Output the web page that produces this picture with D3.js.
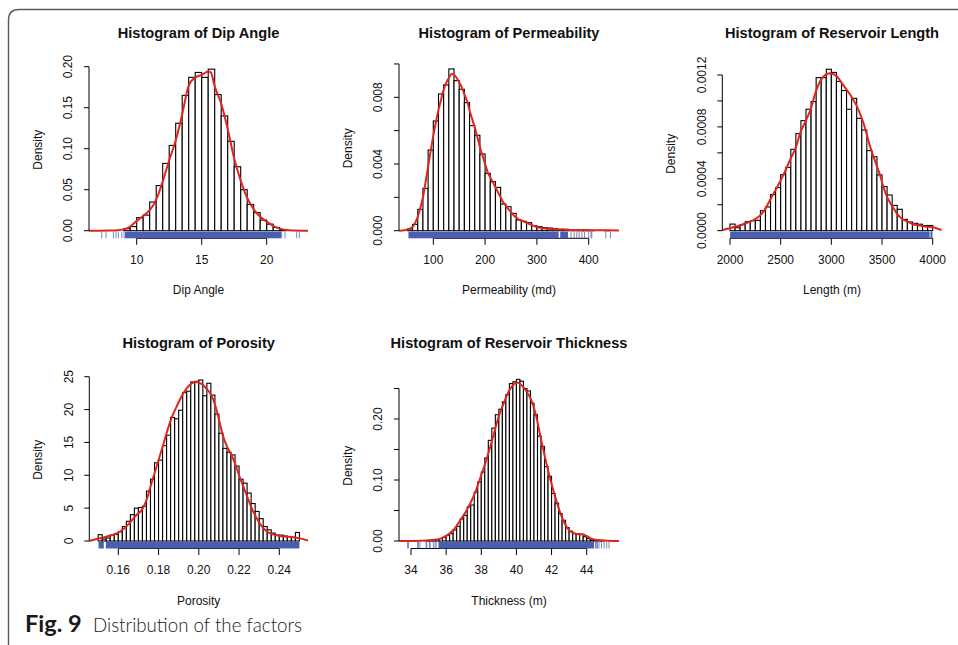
<!DOCTYPE html>
<html><head><meta charset="utf-8">
<script src="https://cdn.jsdelivr.net/npm/d3@7"></script>
<style>
body{margin:0;background:#fff;}
svg{display:block;}
</style></head><body>
<svg id="chart" width="958" height="645"></svg>
<script>
// ================= DATA =================
// --- Dip Angle ---
const dipBinStart = 9.0, dipBinWidth = 0.5;
const dipDensity = [0.0025,0.005,0.016,0.019,0.035,0.055,0.082,0.104,0.131,0.165,0.187,0.193,0.187,0.197,0.166,0.140,0.109,0.078,0.050,0.032,0.022,0.013,0.008,0.004,0.001];
const dipCurveX = [6.33,8.0,8.5,9.0,9.5,10,10.5,11,11.5,12,12.5,13,13.5,14,14.5,15,15.5,15.7,16,16.5,17,17.5,18,18.5,19,19.5,20,20.5,21,21.5,22,23.18];
const dipCurveY = [0,0.0002,0.0005,0.0016,0.005,0.012,0.018,0.025,0.038,0.06,0.086,0.11,0.142,0.177,0.187,0.19,0.194,0.193,0.176,0.155,0.124,0.088,0.061,0.04,0.026,0.017,0.011,0.006,0.0025,0.0008,0.0002,0];
const dipRugDense = [[9.1,21.1]];
const dipRugTicks = [7.31,7.64,8.21,8.41,8.59,8.85,9.03,21.15,21.41,22.31,22.51];
const dipXTicks = [10,15,20];
const dipXLabels = ["10","15","20"];
const dipYTicks = [0,0.05,0.10,0.15,0.20];
const dipYLabels = ["0.00","0.05","0.10","0.15","0.20"];

// --- Permeability ---
const permBinStart = 50, permBinWidth = 10;
const permDensity = [0.0001,0.00038,0.00128,0.00254,0.00484,0.00658,0.0082,0.00874,0.0097,0.0090,0.00848,0.00768,0.0063,0.00572,0.0046,0.00344,0.00294,0.0026,0.0016,0.00144,0.00104,0.00064,0.00056,0.00048,0.0003,0.00024,0.00018,0.00016,0.00012,0.00008,0.00008,0.00006,0.00005,0.00004,0.00004,0.00002,0,0,0.00002];
const permCurveX = [33.8,45,55,62,67,71,76,80.6,85,90.3,95,100,105,109.7,114.5,119.4,124,129,135.5,142,150,155,161,166,171,176,181,186,191,196,200,205,210,215,220,225,230,235,240,245,250,256,262,268,275,281,288,295,306,316,326,336,350,371,397,430,458.5];
const permCurveY = [0,0.00003,0.00012,0.0003,0.0006,0.00094,0.0015,0.0021,0.0029,0.0039,0.0048,0.0057,0.0065,0.0072,0.0078,0.0084,0.0088,0.0091,0.0094,0.0093,0.0089,0.0086,0.0081,0.0077,0.0071,0.0066,0.0061,0.0055,0.0049,0.0044,0.0040,0.0035,0.0032,0.0029,0.0026,0.0023,0.0020,0.0017,0.0015,0.0013,0.0011,0.0009,0.00075,0.00063,0.00055,0.00046,0.00036,0.00028,0.00017,0.00013,0.0001,0.00009,0.00007,0.00004,0.00003,0.00002,0.000005];
const permRugDense = [[52,342],[345,360]];
const permRugTicks = [366,372,377,381.5,387,392,400,404.6,406,433,442];
const permXTicks = [100,200,300,400];
const permXLabels = ["100","200","300","400"];
const permYTicks = [0,0.002,0.004,0.006,0.008,0.010];
const permYLabels = ["0.000","","0.004","","0.008",""];

// --- Reservoir Length ---
const lenBinStart = 2000, lenBinWidth = 50;
const lenDensity = [0.000051,0.000023,0.000046,0.000069,0.000077,0.00008,0.000154,0.000183,0.000278,0.000332,
  0.000432,0.000488,0.000627,0.000748,0.000848,0.000936,0.000995,0.00118,0.00118,0.001244,
  0.00122,0.00115,0.00108,0.000936,0.00102,0.000866,0.000776,0.000617,0.00057,0.00043,
  0.00034,0.000275,0.000195,0.000165,0.000087,0.000067,0.000057,0.00005,0.00004,0.00004];
const lenCurveX = [1901,1950,2000,2050,2100,2150,2200,2250,2300,2350,2395,2461,2527,2592,2658,2691,2750,2793,2842,2888,2938,2987,3053,3119,3185,3251,3317,3382,3448,3480,3513,3550,3600,3645,3700,3750,3800,3875,3950,4006,4050,4089];
const lenCurveY = [0.000003,0.00001,0.00002,0.00003,0.000042,0.000055,0.00007,0.00009,0.00012,0.00017,0.000237,0.00033,0.00043,0.000545,0.00066,0.00075,0.00085,0.00093,0.00106,0.00115,0.0012,0.001213,0.00119,0.00112,0.00105,0.00096,0.00083,0.00065,0.0005,0.00043,0.00034,0.00026,0.00019,0.000134,0.00009,0.00007,0.000052,0.00004,0.00003,0.000026,0.000015,0.000005];
const lenRugDense = [[2001,3970],[3978,3998]];
const lenRugTicks = [];
const lenXTicks = [2000,2500,3000,3500,4000];
const lenXLabels = ["2000","2500","3000","3500","4000"];
const lenYTicks = [0,0.0002,0.0004,0.0006,0.0008,0.0010,0.0012];
const lenYLabels = ["0.0000","","0.0004","","0.0008","","0.0012"];

// --- Porosity ---
const porBinStart = 0.150, porBinWidth = 0.002;
const porDensity = [0.96,0.3,0.46,0.9,1.0,1.4,2.2,3.0,4.0,5.0,
  5.1,5.3,7.6,9.4,11.9,12.3,14.5,16.1,18.8,18.6,
  19.9,22.6,22.8,24.2,24.3,24.5,22.1,24.0,22.2,19.3,
  16.4,14.1,13.5,13.1,11.4,9.4,8.8,7.3,5.7,4.5,
  3.4,2.2,1.7,1.2,0.9,0.9,0.76,0.66,0.56,1.3];
const porCurveX = [0.1456,0.1493,0.1542,0.1592,0.1625,0.1658,0.1691,0.1716,0.1740,0.1765,0.1790,0.1815,0.1840,0.1864,0.1889,0.1914,0.1939,0.1964,0.1988,0.2013,0.2038,0.2060,0.2080,0.2100,0.2120,0.2140,0.2160,0.2180,0.2200,0.2220,0.2240,0.2260,0.2280,0.2300,0.2320,0.2340,0.2369,0.2402,0.2435,0.2468,0.2501,0.2543];
const porCurveY = [0,0.3,0.66,1.17,1.8,2.8,4.0,4.7,6.2,8.8,11.3,13.8,16.4,18.7,20.4,22.0,23.2,24.0,24.2,23.9,23.2,22.3,20.8,18.5,16.0,14.4,13.2,11.8,10.0,8.4,6.8,5.2,3.9,2.8,2.0,1.4,1.0,0.76,0.66,0.56,0.4,0.05];
const porRugDense = [[0.1502,0.1528],[0.1538,0.2500]];
const porRugTicks = [];
const porXTicks = [0.16,0.18,0.20,0.22,0.24];
const porXLabels = ["0.16","0.18","0.20","0.22","0.24"];
const porYTicks = [0,5,10,15,20,25];
const porYLabels = ["0","5","10","15","20","25"];

// --- Reservoir Thickness ---
const thkBinStart = 34.8, thkBinWidth = 0.2;
const thkDensity = [0.0005,0.001,0.0015,0.0025,0.004,0.006,0.009,0.012,0.018,0.024,
  0.036,0.042,0.056,0.059,0.080,0.097,0.113,0.136,0.165,0.185,
  0.207,0.216,0.228,0.240,0.258,0.261,0.265,0.262,0.250,0.246,
  0.226,0.207,0.172,0.155,0.122,0.106,0.078,0.062,0.045,0.034,
  0.022,0.016,0.012,0.012,0.011,0.007,0.004,0.002,0.001,0.0006,0.0003];
const thkCurveX = [33.317,34.3,35.28,35.85,36.42,36.8,37.18,37.56,37.94,38.32,38.70,38.99,39.28,39.56,39.85,40.04,40.23,40.51,40.8,41.09,41.37,41.66,41.94,42.23,42.51,42.8,43.09,43.47,43.85,44.23,44.61,45.18,45.84];
const thkCurveY = [0,0.0002,0.0016,0.006,0.018,0.034,0.051,0.073,0.103,0.136,0.174,0.204,0.226,0.245,0.257,0.260,0.257,0.248,0.234,0.209,0.171,0.133,0.100,0.070,0.045,0.026,0.0153,0.0115,0.0104,0.0044,0.0016,0.0005,0];
const thkRugDense = [[35.56,44.42]];
const thkRugTicks = [33.81,33.85,34.38,34.42,34.51,34.86,34.9,35.05,35.09,35.27,35.37,35.43,44.5,44.57,44.61,44.7,44.84,44.99,45.14,45.27];
const thkXTicks = [34,36,38,40,42,44];
const thkXLabels = ["34","36","38","40","42","44"];
const thkYTicks = [0,0.05,0.10,0.15,0.20,0.25];
const thkYLabels = ["0.00","","0.10","","0.20",""];

// ================= LAYOUT =================
const panels = [
  {title:"Histogram of Dip Angle", xlab:"Dip Angle",
   start:dipBinStart, bw:dipBinWidth, dens:dipDensity, cx:dipCurveX, cy:dipCurveY,
   rugDense:dipRugDense, rugTicks:dipRugTicks, xt:dipXTicks, xl:dipXLabels, yt:dipYTicks, yl:dipYLabels,
   L:{left:89, right:308, bottom:238.3, xCal:[10,20], xPx:[136.7,266.7], yCal:[0,0.20], yPx:[230.7,66.7], titleY:37.5}},
  {title:"Histogram of Permeability", xlab:"Permeability (md)",
   start:permBinStart, bw:permBinWidth, dens:permDensity, cx:permCurveX, cy:permCurveY,
   rugDense:permRugDense, rugTicks:permRugTicks, xt:permXTicks, xl:permXLabels, yt:permYTicks, yl:permYLabels,
   L:{left:399, right:619, bottom:238.3, xCal:[100,400], xPx:[433.3,588.7], yCal:[0,0.008], yPx:[230.7,97.3], titleY:37.5}},
  {title:"Histogram of Reservoir Length", xlab:"Length (m)",
   start:lenBinStart, bw:lenBinWidth, dens:lenDensity, cx:lenCurveX, cy:lenCurveY,
   rugDense:lenRugDense, rugTicks:lenRugTicks, xt:lenXTicks, xl:lenXLabels, yt:lenYTicks, yl:lenYLabels,
   L:{left:722.3, right:941.7, bottom:238.3, xCal:[2000,4000], xPx:[730,932.7], yCal:[0,0.0012], yPx:[230.7,75], titleY:37.5}},
  {title:"Histogram of Porosity", xlab:"Porosity",
   start:porBinStart, bw:porBinWidth, dens:porDensity, cx:porCurveX, cy:porCurveY,
   rugDense:porRugDense, rugTicks:porRugTicks, xt:porXTicks, xl:porXLabels, yt:porYTicks, yl:porYLabels,
   L:{left:89.3, right:308, bottom:548.5, xCal:[0.16,0.24], xPx:[118.3,279.3], yCal:[0,25], yPx:[541,376.7], titleY:347.8}},
  {title:"Histogram of Reservoir Thickness", xlab:"Thickness (m)",
   start:thkBinStart, bw:thkBinWidth, dens:thkDensity, cx:thkCurveX, cy:thkCurveY,
   rugDense:thkRugDense, rugTicks:thkRugTicks, xt:thkXTicks, xl:thkXLabels, yt:thkYTicks, yl:thkYLabels,
   L:{left:399, right:619, bottom:548.5, xCal:[34,44], xPx:[411,586.7], yCal:[0,0.20], yPx:[541,419], titleY:347.8}}
];

const svg = d3.select("#chart");
const FONT = "'Liberation Sans', Arial, Helvetica, sans-serif";
const RUG = "#4b5fb2";
const RED = "#e0251b";

// outer frame (rounded corner, open to the right/bottom)
svg.append("path")
  .attr("d","M8.5,660 L8.5,20 Q8.5,9.5 19,9.5 L970,9.5")
  .attr("fill","none").attr("stroke","#5a5a5a").attr("stroke-width",1.4);

const defs = svg.append("defs");

panels.forEach((p, pi) => {
  const L = p.L;
  const x = d3.scaleLinear().domain(L.xCal).range(L.xPx);
  const y = d3.scaleLinear().domain(L.yCal).range(L.yPx);
  const g = svg.append("g");
  const clipId = "clip" + pi;
  defs.append("clipPath").attr("id", clipId).append("rect")
    .attr("x", L.left).attr("y", L.titleY + 5)
    .attr("width", L.right - L.left).attr("height", L.bottom - L.titleY - 5);

  // bars
  g.append("g").selectAll("rect").data(p.dens).join("rect")
    .attr("x", (d,i) => x(p.start + i*p.bw))
    .attr("width", (d,i) => x(p.start + (i+1)*p.bw) - x(p.start + i*p.bw))
    .attr("y", d => y(d))
    .attr("height", d => y(0) - y(d))
    .attr("fill", "#fff").attr("stroke", "#000").attr("stroke-width", 1.1);

  // density curve
  const pts = p.cx.map((v,i) => [v, p.cy[i]]);
  g.append("path").datum(pts)
    .attr("clip-path", `url(#${clipId})`)
    .attr("d", d3.line().x(d => x(d[0])).y(d => y(d[1])).curve(d3.curveMonotoneX))
    .attr("fill","none").attr("stroke", RED).attr("stroke-width", 2);

  // x axis (R style: line from first to last tick)
  const xa = g.append("g");
  xa.append("line")
    .attr("x1", x(p.xt[0])).attr("x2", x(p.xt[p.xt.length-1]))
    .attr("y1", L.bottom).attr("y2", L.bottom)
    .attr("stroke","#000").attr("stroke-width",1);
  xa.selectAll("line.tk").data(p.xt).join("line").attr("class","tk")
    .attr("x1", d => x(d)).attr("x2", d => x(d))
    .attr("y1", L.bottom).attr("y2", L.bottom + 6.5)
    .attr("stroke","#000").attr("stroke-width",1);
  xa.selectAll("text").data(p.xl).join("text")
    .attr("x", (d,i) => x(p.xt[i])).attr("y", L.bottom + 25.5)
    .attr("text-anchor","middle").attr("font-family",FONT).attr("font-size",12)
    .attr("fill","#111").text(d => d);

  // rug (drawn over the axis line, ticks inward from the plot bottom)
  const rugLen = 6.6;
  g.append("g").selectAll("rect").data(p.rugDense).join("rect")
    .attr("x", d => x(d[0])).attr("width", d => x(d[1]) - x(d[0]))
    .attr("y", L.bottom - rugLen).attr("height", rugLen)
    .attr("fill", RUG);
  g.append("g").selectAll("line").data(p.rugTicks).join("line")
    .attr("x1", d => x(d)).attr("x2", d => x(d))
    .attr("y1", L.bottom - rugLen).attr("y2", L.bottom)
    .attr("stroke", RUG).attr("stroke-opacity", 0.75).attr("stroke-width", 1);

  // y axis
  const ya = g.append("g");
  ya.append("line")
    .attr("x1", L.left).attr("x2", L.left)
    .attr("y1", y(p.yt[0])).attr("y2", y(p.yt[p.yt.length-1]))
    .attr("stroke","#000").attr("stroke-width",1);
  ya.selectAll("line.tk").data(p.yt).join("line").attr("class","tk")
    .attr("x1", L.left - 5).attr("x2", L.left)
    .attr("y1", d => y(d)).attr("y2", d => y(d))
    .attr("stroke","#000").attr("stroke-width",1);
  ya.selectAll("text").data(p.yl).join("text")
    .attr("transform", (d,i) => `translate(${L.left - 21},${y(p.yt[i])}) rotate(-90)`)
    .attr("dy","0.35em").attr("text-anchor","middle")
    .attr("font-family",FONT).attr("font-size",12).attr("fill","#111").text(d => d);

  // axis titles
  g.append("text")
    .attr("transform", `translate(${L.left - 51.5},${(L.yPx[0] + y(p.yt[p.yt.length-1]))/2 + 1}) rotate(-90)`)
    .attr("dy","0.35em").attr("text-anchor","middle")
    .attr("font-family",FONT).attr("font-size",12).attr("fill","#111").text("Density");
  g.append("text")
    .attr("x", (L.left + L.right)/2).attr("y", L.bottom + 56)
    .attr("text-anchor","middle").attr("font-family",FONT).attr("font-size",12)
    .attr("fill","#111").text(p.xlab);

  // main title
  g.append("text")
    .attr("x", (L.left + L.right)/2).attr("y", L.titleY)
    .attr("text-anchor","middle").attr("font-family",FONT).attr("font-size",14.6)
    .attr("font-weight","bold").attr("fill","#111").text(p.title);
});

// caption
function fitWidth(sel, target){
  const w = sel.node().getComputedTextLength();
  const fs = parseFloat(sel.attr("font-size"));
  sel.attr("font-size", fs * target / w);
}
const capFont = "Lato, 'Open Sans', 'Noto Sans', sans-serif";
const fig = svg.append("text").attr("x",25).attr("y",631.7)
  .attr("font-family",capFont).attr("font-weight","bold").attr("font-size",20)
  .attr("fill","#1a1a1a").text("Fig. 9");
fitWidth(fig, 56.7);
const cap = svg.append("text").attr("x",93).attr("y",631.7)
  .attr("font-family",capFont).attr("font-weight",300).attr("font-size",20)
  .attr("fill","#1a1a1a").text("Distribution of the factors");
fitWidth(cap, 209);
</script>
</body></html>
